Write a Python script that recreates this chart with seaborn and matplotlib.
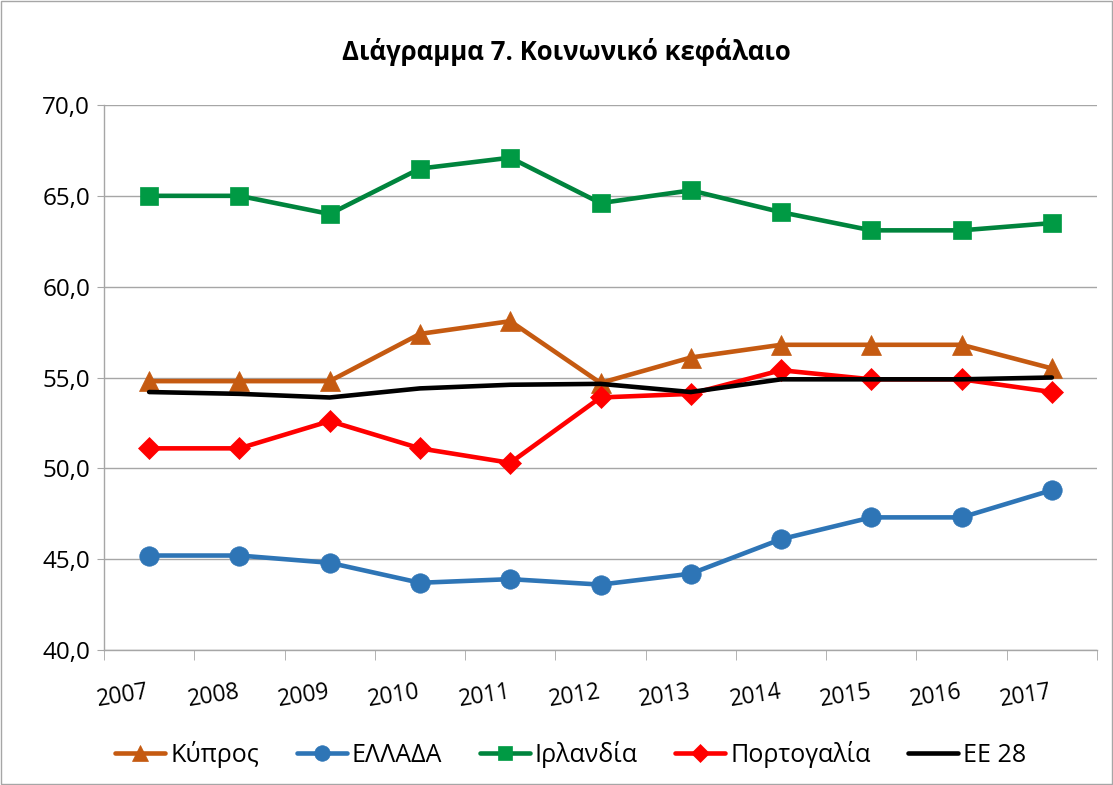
import pandas as pd
import seaborn as sns
import matplotlib.pyplot as plt
from matplotlib.patches import Rectangle
from matplotlib.ticker import FixedLocator, FuncFormatter

years = ["2007", "2008", "2009", "2010", "2011", "2012", "2013", "2014", "2015", "2016", "2017"]
kypros = [54.8, 54.8, 54.8, 57.4, 58.1, 54.7, 56.1, 56.8, 56.8, 56.8, 55.5]
ellada = [45.2, 45.2, 44.8, 43.7, 43.9, 43.6, 44.2, 46.1, 47.3, 47.3, 48.8]
irlandia = [65.0, 65.0, 64.0, 66.5, 67.1, 64.6, 65.3, 64.1, 63.1, 63.1, 63.5]
portogalia = [51.1, 51.1, 52.6, 51.1, 50.3, 53.9, 54.1, 55.4, 54.9, 54.9, 54.2]
ee28 = [54.2, 54.1, 53.9, 54.4, 54.6, 54.65, 54.2, 54.9, 54.9, 54.9, 55.0]

series_names = ["Κύπρος", "ΕΛΛΑΔΑ", "Ιρλανδία", "Πορτογαλία", "ΕΕ 28"]
series_values = [kypros, ellada, irlandia, portogalia, ee28]

# line colour, marker, marker face, marker size
styles = {
    "Κύπρος": ("#C55A11", "^", "#C55A11", 15),
    "ΕΛΛΑΔΑ": ("#2E75B6", "o", "#2E75B6", 14),
    "Ιρλανδία": ("#00843D", "s", "#009A44", 13),
    "Πορτογαλία": ("#FF0000", "D", "#FF0000", 11),
    "ΕΕ 28": ("#000000", None, "#000000", 0),
}

sns.set_style("white")
plt.rcParams['font.family'] = ['Open Sans', 'DejaVu Sans']
plt.rcParams['text.color'] = 'black'

fig = plt.figure(figsize=(11.13, 7.85), dpi=100)
ax = fig.add_axes([104 / 1113, 1 - 650 / 785, (1097 - 104) / 1113, (650 - 105) / 785])

for name, values in zip(series_names, series_values):
    color, marker, face, size = styles[name]
    df = pd.DataFrame({"year": years, "value": values})
    sns.lineplot(data=df, x="year", y="value", ax=ax, color=color, linewidth=3.3,
                 marker=marker, markersize=size, markerfacecolor=face,
                 markeredgecolor=face, markeredgewidth=0.5, label=name, sort=False)

ax.set_ylim(40, 70)
ax.set_xlim(-0.5, len(years) - 0.5)
ax.set_yticks([40, 45, 50, 55, 60, 65, 70])
ax.yaxis.set_major_formatter(FuncFormatter(lambda v, _: f"{v:.1f}".replace(".", ",")))
ax.grid(axis="y", color="#A6A6A6", linewidth=1)
ax.grid(axis="x", visible=False)
ax.set_axisbelow(True)

ax.set_xticks(range(len(years)))
ax.set_xticklabels(years, rotation=9, fontsize=16.5, ha="right", va="center",
                   rotation_mode="anchor")
ax.xaxis.set_minor_locator(FixedLocator([i - 0.5 for i in range(len(years) + 1)]))
ax.tick_params(axis="x", which="major", length=0, pad=30, labelcolor="black")
ax.tick_params(axis="x", which="minor", length=7, color="#A6A6A6", direction="out", bottom=True)
ax.tick_params(axis="y", length=5, color="#A6A6A6", labelsize=17.5, pad=5, left=True,
               labelcolor="black")

for side in ["top", "right"]:
    ax.spines[side].set_visible(False)
for side in ["left", "bottom"]:
    ax.spines[side].set_color("#A6A6A6")
    ax.spines[side].set_linewidth(1)

ax.set_xlabel("")
ax.set_ylabel("")
fig.text(566 / 1113, 1 - 52 / 785, "Διάγραμμα 7. Κοινωνικό κεφάλαιο", fontsize=18.5,
         fontweight="bold", ha="center", va="center", color="black")

leg = ax.legend(loc="upper center", bbox_to_anchor=(0.47, -0.125), ncol=5, frameon=False,
                fontsize=18, handlelength=2.0, handletextpad=0.2, columnspacing=1.5,
                markerscale=0.8)
for txt in leg.get_texts():
    txt.set_color("black")

fig.patches.append(Rectangle((0.001, 0.001), 0.998, 0.998, transform=fig.transFigure,
                             fill=False, edgecolor="#A6A6A6", linewidth=1))

plt.savefig("out.png", dpi=100)
